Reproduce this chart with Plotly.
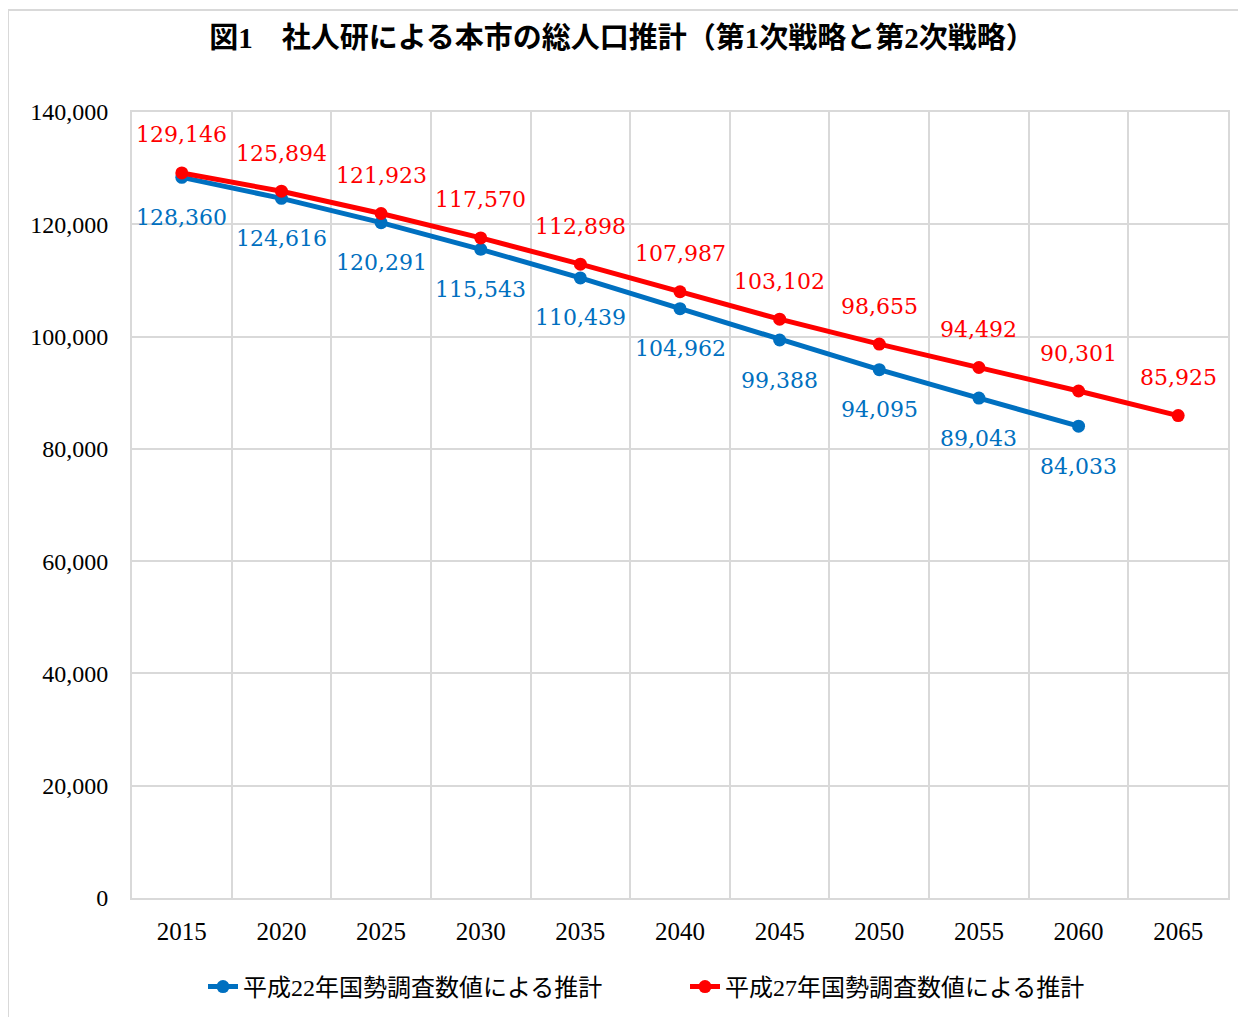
import plotly.graph_objects as go

years = ["2015", "2020", "2025", "2030", "2035", "2040", "2045", "2050", "2055", "2060", "2065"]
h22_values = [128360, 124616, 120291, 115543, 110439, 104962, 99388, 94095, 89043, 84033]
h27_values = [129146, 125894, 121923, 117570, 112898, 107987, 103102, 98655, 94492, 90301, 85925]
h22_name = "平成22年国勢調査数値による推計"
h27_name = "平成27年国勢調査数値による推計"
title_text = "<b>図1　社人研による本市の総人口推計（第1次戦略と第2次戦略）</b>"

BLUE = "#0070C0"
RED = "#FF0000"
GRID = "#D9D9D9"
SERIF = "Liberation Serif, Noto Sans CJK JP, serif"
LABEL_FONT = "DejaVu Serif, serif"

xpos = list(range(len(years)))
x22 = xpos[:len(h22_values)]

OFF = 8  # page body margin
W, H = 1246, 1017
L, T = 132 - OFF, 112 - OFF
PLOT_R, PLOT_B = 1228 - OFF, 898 - OFF
R, B = W - PLOT_R, H - PLOT_B
PW, PH = PLOT_R - L, PLOT_B - T


def px(xp):
    return (xp - OFF - L) / PW


def py(yp):
    return (PLOT_B - (yp - OFF)) / PH


fig = go.Figure()
fig.add_trace(go.Scatter(
    x=x22, y=h22_values, name=h22_name, mode="lines+markers",
    line=dict(color=BLUE, width=5), marker=dict(color=BLUE, size=13),
))
fig.add_trace(go.Scatter(
    x=xpos, y=h27_values, name=h27_name, mode="lines+markers",
    line=dict(color=RED, width=5), marker=dict(color=RED, size=13),
))

annotations = []
for xi, v in zip(x22, h22_values):
    annotations.append(dict(x=xi, y=v, xref="x", yref="y", text=f"{v:,}", showarrow=False,
                            yshift=-40, font=dict(family=LABEL_FONT, size=22, color=BLUE)))
for xi, v in zip(xpos, h27_values):
    annotations.append(dict(x=xi, y=v, xref="x", yref="y", text=f"{v:,}", showarrow=False,
                            yshift=38, font=dict(family=LABEL_FONT, size=22, color=RED)))

fig.update_layout(
    width=W, height=H,
    margin=dict(l=L, r=R, t=T, b=B),
    paper_bgcolor="white", plot_bgcolor="white",
    title=dict(text=title_text, x=(622 - OFF) / W, xanchor="center", y=1 - (38 - OFF) / H,
               yanchor="middle", font=dict(family=SERIF, size=29, color="black")),
    font=dict(family=SERIF, color="black"),
    xaxis=dict(range=[-0.5, len(years) - 0.5], tickmode="array", tickvals=xpos, ticktext=years,
               showgrid=False,
               minor=dict(tickmode="array", tickvals=[i - 0.5 for i in xpos] + [len(years) - 0.5],
                          showgrid=True, gridcolor=GRID, gridwidth=2, ticks=""),
               showline=True, linecolor=GRID, linewidth=2, mirror=True,
               ticks="", tickfont=dict(family=SERIF, size=25, color="black"),
               ticklabelstandoff=10, zeroline=False),
    yaxis=dict(range=[0, 140000], dtick=20000, tickformat=",", showgrid=True,
               gridcolor=GRID, gridwidth=2, showline=True, linecolor=GRID, linewidth=2,
               mirror=True, ticks="", tickfont=dict(family=SERIF, size=24, color="black"),
               ticklabelstandoff=17, zeroline=False),
    showlegend=True,
    legend=dict(orientation="h", x=px(203), xanchor="left", y=py(987), yanchor="middle",
                font=dict(family=SERIF, size=24, color="black"),
                entrywidth=437, entrywidthmode="pixels", bgcolor="rgba(0,0,0,0)"),
    annotations=annotations,
    shapes=[dict(type="rect", xref="paper", yref="paper", x0=px(8), x1=px(1245),
                 y0=py(1030), y1=py(10), line=dict(color=GRID, width=2), layer="below")],
)

fig.write_html("out.html")
